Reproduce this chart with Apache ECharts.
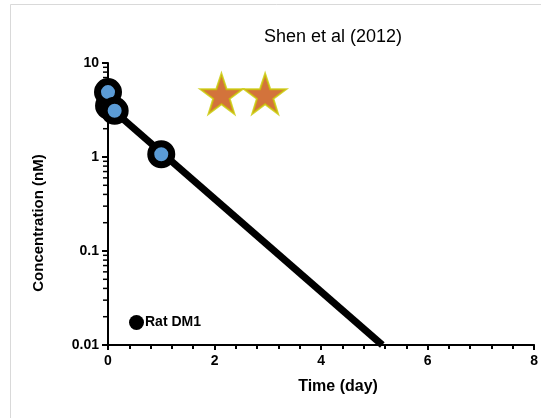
<!DOCTYPE html>
<html><head><meta charset="utf-8">
<script src="https://cdn.jsdelivr.net/npm/echarts@6/dist/echarts.min.js"></script>
<style>html,body{margin:0;padding:0;background:#fff}#c{width:541px;height:418px}</style>
</head><body><div id="c"></div>
<script>
var titleText = 'Shen et al (2012)';
var seriesName = 'Rat DM1';
var obsData = [[0.02, 3.5], [0, 4.9], [0.125, 3.1], [1, 1.07]];
var fitLine = [[0, 3.5], [5.15, 0.01]];
var starPoints = [[2.13, 4.7], [2.95, 4.7]];
var xLabel = 'Time (day)';
var yLabel = 'Concentration (nM)';
var yMinorTicks = [0.02, 0.03, 0.04, 0.05, 0.06, 0.07, 0.08, 0.09,
                   0.2, 0.3, 0.4, 0.5, 0.6, 0.7, 0.8, 0.9,
                   2, 3, 4, 5, 6, 7, 8, 9];

var starPath = 'path://M50,0 L61.8,35.1 L98.1,35.1 L68.8,56.8 L79.4,90.9 L50,69.1 L20.6,90.9 L31.2,56.8 L1.9,35.1 L38.2,35.1 Z';
var F = 'Liberation Sans, Arial, sans-serif';
var chart = echarts.init(document.getElementById('c'));
chart.setOption({
  animation: false,
  backgroundColor: '#fff',
  graphic: [{type: 'rect', shape: {x: 10.5, y: 4.5, width: 700, height: 600}, style: {fill: 'none', stroke: '#d9d9d9', lineWidth: 1}, z: -10}],
  title: {text: titleText, left: 328, top: 23, textAlign: 'center', textStyle: {fontFamily: F, fontSize: 18, fontWeight: 'normal', color: '#000'}},
  legend: {left: 124, top: 310, data: [{name: seriesName, icon: 'circle', itemStyle: {color: '#000', borderWidth: 0}}], itemWidth: 15, itemHeight: 15, itemGap: 2, textStyle: {fontFamily: F, fontSize: 14, fontWeight: 'bold', color: '#000', padding: [0, 0, 0, -4]}},
  grid: {left: 108, top: 63, right: 2, bottom: 73},
  xAxis: {type: 'value', min: 0, max: 8, interval: 2, name: xLabel, nameLocation: 'middle', nameGap: 34,
    nameTextStyle: {fontFamily: F, fontSize: 16, fontWeight: 'bold', color: '#000', padding: [0, 0, 0, 34]},
    axisLine: {lineStyle: {color: '#000', width: 2}}, axisTick: {length: 5, lineStyle: {color: '#000', width: 2}},
    minorTick: {show: true, splitNumber: 5, length: 4, lineStyle: {color: '#000', width: 2}},
    axisLabel: {fontFamily: F, fontSize: 14, fontWeight: 'bold', color: '#000', margin: 9},
    splitLine: {show: false}},
  yAxis: {type: 'log', logBase: 10, min: 0.01, max: 10, name: yLabel, nameLocation: 'middle', nameGap: 62,
    nameTextStyle: {fontFamily: F, fontSize: 15, fontWeight: 'bold', color: '#000', padding: [0, 38, 0, 0]},
    axisLine: {show: true, lineStyle: {color: '#000', width: 2}}, axisTick: {length: 6, lineStyle: {color: '#000', width: 2}},
    minorTick: {show: false},
    axisLabel: {fontFamily: F, fontSize: 14, fontWeight: 'bold', color: '#000', margin: 9, formatter: function (v) { return String(v); }},
    splitLine: {show: false}},
  series: [
    {name: 'minorTicks', type: 'custom', data: yMinorTicks.map(function (v) { return [0, v]; }), silent: true, clip: false,
      renderItem: function (params, api) {
        var p = api.coord([0, api.value(1)]);
        return {type: 'line', shape: {x1: p[0] - 5, y1: p[1], x2: p[0], y2: p[1]}, style: {stroke: '#000', lineWidth: 1.5}};
      }, z: 1},
    {name: 'fit', type: 'line', data: fitLine, symbol: 'none', lineStyle: {color: '#000', width: 7}, z: 2},
    {name: seriesName, type: 'scatter', data: obsData, symbol: 'circle', symbolSize: 21,
      itemStyle: {color: '#5b9bd5', borderColor: '#000', borderWidth: 7, opacity: 1}, z: 3},
    {name: 'stars', type: 'scatter', data: starPoints, symbol: starPath, symbolSize: [42, 40],
      itemStyle: {color: '#c8500a', borderColor: '#c8c800', borderWidth: 2}, z: 4}
  ]
});
</script></body></html>
